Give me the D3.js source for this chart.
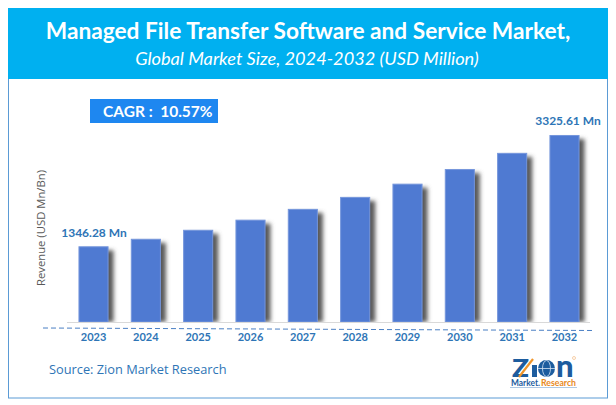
<!DOCTYPE html>
<html>
<head>
<meta charset="utf-8">
<script src="https://cdnjs.cloudflare.com/ajax/libs/d3/7.8.5/d3.min.js"></script>
<style>
  html, body { margin: 0; padding: 0; background: #fff; }
  svg { display: block; }
  text { font-family: Lato, sans-serif; }
</style>
</head>
<body>
<svg id="chart" width="616" height="405"></svg>
<script>
// values
var years = ["2023", "2024", "2025", "2026", "2027", "2028", "2029", "2030", "2031", "2032"];
var revenue = [1346.28, 1480, 1640, 1820, 2012, 2225, 2460, 2720, 3008, 3325.61];
var firstLabel = "1346.28 Mn";
var lastLabel = "3325.61 Mn";

var svg = d3.select("#chart");

var x = d3.scaleBand().domain(years).range([68, 590]).paddingInner(0.425).paddingOuter(0.2);
var y = d3.scaleLinear().domain([0, 3325.61]).range([322, 135]);

// shadow for the bars
var defs = svg.append("defs");
defs.append("filter").attr("id", "blur")
    .attr("x", "-50%").attr("width", "200%")
    .append("feGaussianBlur").attr("stdDeviation", 2);

// frame and header
svg.append("rect").attr("x", 8.5).attr("y", 8.5).attr("width", 599).attr("height", 389.5)
    .attr("fill", "#fff").attr("stroke", "#5b9bd5").attr("stroke-width", 1);
svg.append("rect").attr("x", 8).attr("y", 8).attr("width", 600).attr("height", 71)
    .attr("fill", "#00b0f0");

svg.append("text").attr("x", 308).attr("y", 39).attr("text-anchor", "middle")
    .attr("fill", "#fff").attr("font-size", 22.7).attr("font-weight", 700)
    .text("Managed File Transfer Software and Service Market,");
svg.append("text").attr("x", 307).attr("y", 65).attr("text-anchor", "middle")
    .attr("fill", "#fff").attr("font-size", 18.2).attr("font-style", "italic")
    .text("Global Market Size, 2024-2032 (USD Million)");

// CAGR box
svg.append("rect").attr("x", 90).attr("y", 99).attr("width", 128).attr("height", 24)
    .attr("fill", "#1e87f0");
svg.append("text").attr("x", 103).attr("y", 117)
    .attr("fill", "#fff").attr("font-size", 15.5).attr("font-weight", 700)
    .attr("xml:space", "preserve")
    .text("CAGR :  10.57%");

// bars
svg.append("g").selectAll("rect").data(revenue).join("rect")
    .attr("x", function (d, i) { return x(years[i]) + 5; })
    .attr("y", function (d) { return y(d) + 4; })
    .attr("width", x.bandwidth())
    .attr("height", function (d) { return y(0) - y(d) - 4; })
    .attr("fill", "#595959")
    .attr("filter", "url(#blur)");

svg.append("rect").attr("x", 68).attr("y", 322).attr("width", 522).attr("height", 6).attr("fill", "#fff");

svg.append("g").selectAll("rect").data(revenue).join("rect")
    .attr("x", function (d, i) { return x(years[i]) + 0.5; })
    .attr("y", function (d) { return y(d) + 0.5; })
    .attr("width", x.bandwidth() - 1)
    .attr("height", function (d) { return y(0) - y(d) - 0.5; })
    .attr("fill", "#4f7ad2")
    .attr("stroke", "#7596dc").attr("stroke-width", 1);

// baseline and dashed line
svg.append("line").attr("x1", 67).attr("x2", 590).attr("y1", 322.5).attr("y2", 322.5)
    .attr("stroke", "#d9d9d9").attr("stroke-width", 1);
svg.append("line").attr("x1", 43).attr("x2", 593).attr("y1", 328).attr("y2", 330.5)
    .attr("stroke", "#4a7fc4").attr("stroke-width", 1).attr("stroke-dasharray", "5 3");

// year labels
var xAxis = svg.append("g").attr("transform", "translate(0,322)")
    .call(d3.axisBottom(x).tickSize(0).tickPadding(11));
xAxis.select(".domain").remove();
xAxis.selectAll("text")
    .attr("fill", "#2e75b6").attr("font-size", 11).attr("font-weight", 700)
    .attr("font-family", "Lato, sans-serif");

// value labels
svg.append("text").attr("x", 94).attr("y", 237).attr("text-anchor", "middle")
    .attr("fill", "#2e75b6").attr("font-size", 12).attr("font-weight", 700)
    .text(firstLabel);
svg.append("text").attr("x", 568).attr("y", 125).attr("text-anchor", "middle")
    .attr("fill", "#2e75b6").attr("font-size", 12).attr("font-weight", 700)
    .text(lastLabel);

// axis title and source
svg.append("text").attr("transform", "translate(44.5,228) rotate(-90)").attr("text-anchor", "middle")
    .attr("fill", "#595959").attr("font-size", 11.3).style("font-family", "'Open Sans', sans-serif")
    .text("Revenue (USD Mn/Bn)");
svg.append("text").attr("x", 49).attr("y", 374)
    .attr("fill", "#2e75b6").attr("font-size", 12.8).style("font-family", "'Open Sans', sans-serif")
    .text("Source: Zion Market Research");

// logo
var logoBlue = "#1d5c9e";
var logo = svg.append("g");
logo.append("text").attr("x", 512).attr("y", 377)
    .attr("fill", logoBlue).attr("font-size", 24).attr("font-weight", 900)
    .attr("textLength", 17).attr("lengthAdjust", "spacingAndGlyphs")
    .text("Z");
logo.append("line").attr("x1", 519).attr("y1", 377).attr("x2", 533).attr("y2", 359)
    .attr("stroke", "#f0952a").attr("stroke-width", 2.2);
logo.append("rect").attr("x", 532).attr("y", 365).attr("width", 5).attr("height", 12).attr("fill", logoBlue);
logo.append("circle").attr("cx", 546.5).attr("cy", 368.5).attr("r", 8.5).attr("fill", logoBlue);
logo.append("ellipse").attr("cx", 546.5).attr("cy", 368.5).attr("rx", 4).attr("ry", 8)
    .attr("fill", "none").attr("stroke", "#d5e3f2").attr("stroke-width", 0.8);
logo.append("line").attr("x1", 538).attr("x2", 555).attr("y1", 368.5).attr("y2", 368.5)
    .attr("stroke", "#d5e3f2").attr("stroke-width", 0.8);
logo.append("text").attr("x", 556).attr("y", 377)
    .attr("fill", logoBlue).attr("font-size", 31).attr("font-weight", 900)
    .text("n");
logo.append("circle").attr("cx", 574).attr("cy", 358).attr("r", 1.5)
    .attr("fill", "none").attr("stroke", "#f0b070").attr("stroke-width", 0.6);
logo.append("text").attr("x", 511).attr("y", 386)
    .attr("fill", logoBlue).attr("font-size", 8.5).attr("font-weight", 700)
    .attr("textLength", 29).attr("lengthAdjust", "spacingAndGlyphs")
    .text("Market.");
logo.append("text").attr("x", 541).attr("y", 386)
    .attr("fill", "#e8891c").attr("font-size", 8.5).attr("font-weight", 700)
    .attr("textLength", 35).attr("lengthAdjust", "spacingAndGlyphs")
    .text("Research");
logo.append("line").attr("x1", 510).attr("x2", 577).attr("y1", 387.5).attr("y2", 387.5)
    .attr("stroke", "#9dbbdc").attr("stroke-width", 0.8);
</script>
</body>
</html>
